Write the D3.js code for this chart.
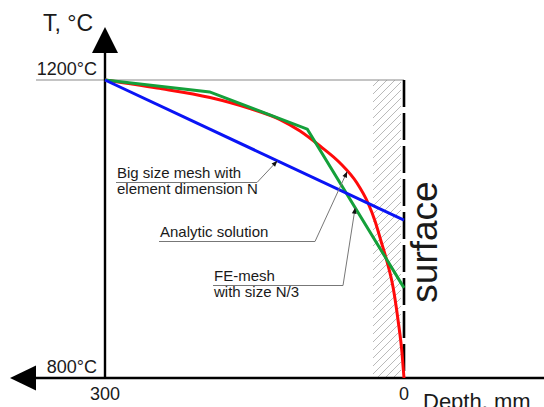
<!DOCTYPE html>
<html>
<head>
<meta charset="utf-8">
<script src="https://cdn.jsdelivr.net/npm/d3@7"></script>
<style>
    body { margin: 0; background: #fff; }
    svg { font-family: "Liberation Sans", Arial, sans-serif; }
    text { fill: #1a1a1a; }
</style>
</head>
<body>
<svg id="vis-svg"></svg>
<script>
// values (depth in mm, temperature in °C)
const depthTicks = [300, 0];
const tempTicks = [800, 1200];

const analyticDepth = [300, 247.8, 194.6, 154.5, 124.4, 104.3, 84.3, 64.2, 47.2, 36.1, 29.1, 23.1, 17.1, 11.0, 6.0, 2.0, 0];
const analyticTemp = [1200, 1189.3, 1176.5, 1161.7, 1146.9, 1131.5, 1111.4, 1088.6, 1061.7, 1034.9, 1010.7, 983.9, 956.7, 922.1, 877.9, 833.6, 800];

const coarseDepth = [300, 0];
const coarseTemp = [1200, 1012];

const fineDepth = [300, 195, 97, 0];
const fineTemp = [1200, 1184, 1134, 921];

const toPoints = (ds, ts) => ds.map((d, i) => ({depth: d, temp: ts[i]}));

// temperature of a series at some depth (for placing the leader arrow tips)
function tempAt(ds, ts, depth) {
    for (let i = 1; i < ds.length; i++) {
        if (depth >= ds[i]) {
            let t = (ds[i-1] - depth) / (ds[i-1] - ds[i]);
            return ts[i-1] + t * (ts[i] - ts[i-1]);
        }
    }
    return ts[ts.length - 1];
}

let svg = d3.select("#vis-svg")
    .attr("width", 544)
    .attr("height", 407);

let xScale = d3.scaleLinear()
    .domain([300, 0])
    .range([105, 404]);

let yScale = d3.scaleLinear()
    .domain([800, 1200])
    .range([378, 80]);

let defs = svg.append("defs");

defs.append("marker")
    .attr("id", "tip")
    .attr("viewBox", "0 0 10 10")
    .attr("refX", 10)
    .attr("refY", 5)
    .attr("markerUnits", "userSpaceOnUse")
    .attr("markerWidth", 8)
    .attr("markerHeight", 6)
    .attr("orient", "auto")
    .append("path")
        .attr("d", "M0,1 L10,5 L0,9 Z")
        .attr("fill", "#111");

// hatched strip next to the surface
defs.append("clipPath")
    .attr("id", "hatch-clip")
    .append("rect")
        .attr("x", 373)
        .attr("y", yScale(1200))
        .attr("width", xScale(0) - 373 - 3)
        .attr("height", yScale(800) - yScale(1200));

let hatch = svg.append("g")
    .attr("clip-path", "url(#hatch-clip)");

d3.range(yScale(1200) - 40, yScale(800) + 40, 8).forEach(yy => {
    hatch.append("line")
        .attr("x1", 373)
        .attr("y1", yy + 30)
        .attr("x2", 403)
        .attr("y2", yy)
        .attr("stroke", "#a8a8a8")
        .attr("stroke-width", 0.8);
});

// 1200°C reference line
svg.append("line")
    .attr("x1", 36)
    .attr("x2", xScale(0))
    .attr("y1", yScale(1200))
    .attr("y2", yScale(1200))
    .attr("stroke", "#8a8a8a")
    .attr("stroke-width", 1.2);

// surface (dashed)
svg.append("line")
    .attr("x1", xScale(0))
    .attr("x2", xScale(0))
    .attr("y1", yScale(1200))
    .attr("y2", yScale(800))
    .attr("stroke", "#000")
    .attr("stroke-width", 2.6)
    .attr("stroke-dasharray", "27,6");

// axes with arrow heads
svg.append("line")
    .attr("x1", xScale(300))
    .attr("x2", xScale(300))
    .attr("y1", 50)
    .attr("y2", yScale(800))
    .attr("stroke", "#000")
    .attr("stroke-width", 2.4);

svg.append("path")
    .attr("d", `M${xScale(300)},27 L${xScale(300) + 13},53 L${xScale(300) - 13},53 Z`)
    .attr("fill", "#000");

svg.append("line")
    .attr("x1", 34)
    .attr("x2", 544)
    .attr("y1", yScale(800))
    .attr("y2", yScale(800))
    .attr("stroke", "#000")
    .attr("stroke-width", 2.4);

svg.append("path")
    .attr("d", `M10,${yScale(800)} L36,${yScale(800) - 12.5} L36,${yScale(800) + 12.5} Z`)
    .attr("fill", "#000");

// axis texts
svg.selectAll("text.depth-tick")
    .data(depthTicks)
    .enter()
        .append("text")
        .attr("class", "depth-tick")
        .attr("x", d => xScale(d))
        .attr("y", 400)
        .attr("text-anchor", "middle")
        .attr("font-size", 18)
        .text(d => d);

svg.selectAll("text.temp-tick")
    .data(tempTicks)
    .enter()
        .append("text")
        .attr("class", "temp-tick")
        .attr("x", xScale(300) - 8)
        .attr("y", d => yScale(d) - 5)
        .attr("text-anchor", "end")
        .attr("font-size", 18)
        .text(d => d + "°C");

svg.append("text")
    .attr("x", 43)
    .attr("y", 31)
    .attr("font-size", 23)
    .text("T, °C");

svg.append("text")
    .attr("x", 423)
    .attr("y", 409)
    .attr("font-size", 22)
    .text("Depth, mm");

svg.append("text")
    .attr("transform", `translate(437, 242) rotate(-90)`)
    .attr("text-anchor", "middle")
    .attr("font-size", 37)
    .text("surface");

// the three temperature curves
let line = d3.line()
    .x(d => xScale(d.depth))
    .y(d => yScale(d.temp));

svg.append("path")
    .datum(toPoints(analyticDepth, analyticTemp))
    .attr("fill", "none")
    .attr("stroke", "#ff0a0a")
    .attr("stroke-width", 3)
    .attr("d", line.curve(d3.curveMonotoneX));

svg.append("path")
    .datum(toPoints(fineDepth, fineTemp))
    .attr("fill", "none")
    .attr("stroke", "#14a03a")
    .attr("stroke-width", 3)
    .attr("d", line.curve(d3.curveLinear));

svg.append("path")
    .datum(toPoints(coarseDepth, coarseTemp))
    .attr("fill", "none")
    .attr("stroke", "#0a14f5")
    .attr("stroke-width", 3)
    .attr("d", line.curve(d3.curveLinear));

// leader notes
let notes = [
    {lines: ["Big size mesh with", "element dimension N"], x: 116, y: 178, under: 257,
        depth: 127, ds: coarseDepth, ts: coarseTemp},
    {lines: ["Analytic solution"], x: 159, y: 237, under: 315,
        depth: 57, ds: analyticDepth, ts: analyticTemp},
    {lines: ["FE-mesh", "with size N/3"], x: 213, y: 281, under: 343,
        depth: 49, ds: fineDepth, ts: fineTemp},
];

let noteGroups = svg.selectAll("g.note")
    .data(notes)
    .enter()
        .append("g")
        .attr("class", "note");

noteGroups.selectAll("text")
    .data(d => d.lines.map((l, i) => ({text: l, x: d.x, y: d.y + i * 16})))
    .enter()
        .append("text")
        .attr("x", d => d.x + 1)
        .attr("y", d => d.y)
        .attr("font-size", 15)
        .text(d => d.text);

noteGroups.append("path")
    .attr("fill", "none")
    .attr("stroke", "#777")
    .attr("stroke-width", 1)
    .attr("marker-end", "url(#tip)")
    .attr("d", d => {
        let yy = d.y + 4.5;
        let tx = xScale(d.depth), ty = yScale(tempAt(d.ds, d.ts, d.depth));
        return `M${d.x},${yy} L${d.under},${yy} L${tx},${ty}`;
    });
</script>
</body>
</html>
